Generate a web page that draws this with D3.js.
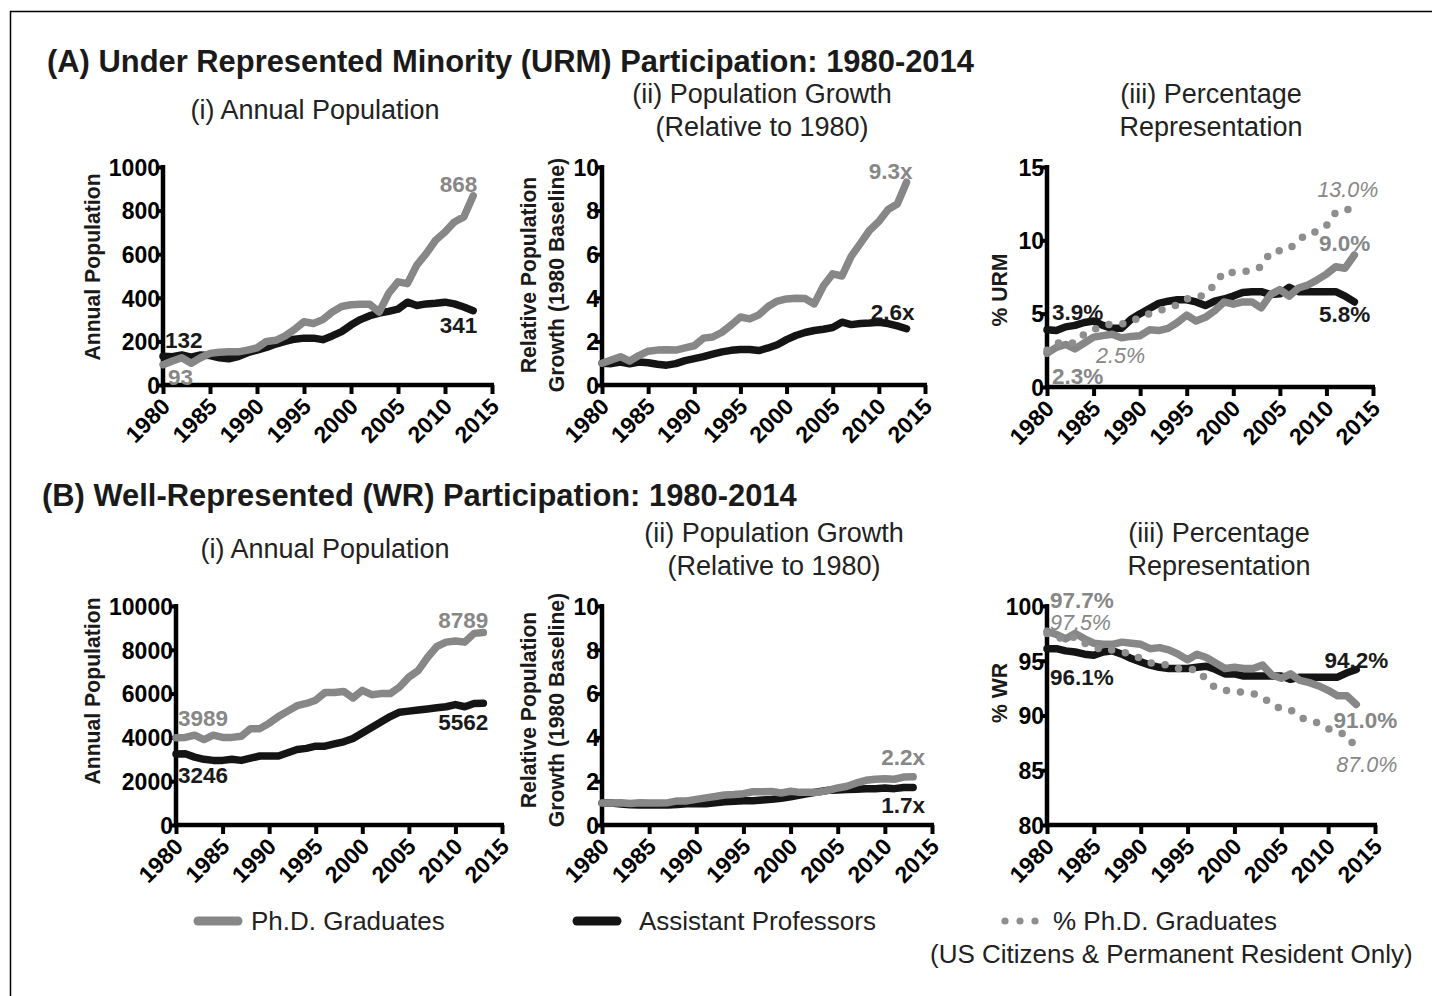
<!DOCTYPE html>
<html>
<head>
<meta charset="utf-8">
<script src="https://cdn.jsdelivr.net/npm/d3@7"></script>
<style>
  body { margin: 0; background: #fff; }
  svg { display: block; }
  text { font-family: "Liberation Sans", Arial, Helvetica, sans-serif; }
</style>
</head>
<body>
<div id="chart"></div>
<script>
// ---- data ----
const years = [1980, 1981, 1982, 1983, 1984, 1985, 1986, 1987, 1988, 1989,
  1990, 1991, 1992, 1993, 1994, 1995, 1996, 1997, 1998, 1999,
  2000, 2001, 2002, 2003, 2004, 2005, 2006, 2007, 2008, 2009,
  2010, 2011, 2012, 2013];
const xTicks = [1980, 1985, 1990, 1995, 2000, 2005, 2010, 2015];

// (A) under represented minority
const urmPhd = [93, 110, 125, 100, 125, 145, 150, 152, 152, 160, 170, 200, 205, 225, 255, 290, 282, 300, 335, 360,
  368, 370, 370, 335, 420, 473, 465, 550, 603, 664, 702, 748, 771, 868];
const urmProf = [132, 130, 138, 128, 138, 135, 125, 120, 130, 148, 160, 172, 188, 200, 210, 215, 215, 208, 225, 245,
  275, 300, 318, 330, 338, 348, 380, 365, 372, 375, 380, 372, 358, 341];
const urmPhdGrowth = [1.0, 1.15, 1.3, 1.1, 1.35, 1.55, 1.6, 1.62, 1.6, 1.7, 1.8, 2.15, 2.2, 2.42, 2.75, 3.12, 3.03, 3.22, 3.6, 3.85,
  3.95, 3.98, 3.97, 3.72, 4.55, 5.1, 5.0, 5.9, 6.5, 7.1, 7.5, 8.05, 8.3, 9.3];
const urmProfGrowth = [1.0, 0.98, 1.05, 0.97, 1.05, 1.02, 0.95, 0.91, 0.98, 1.12, 1.21, 1.3, 1.42, 1.52, 1.59, 1.63, 1.63, 1.58, 1.7, 1.85,
  2.08, 2.27, 2.41, 2.5, 2.56, 2.64, 2.88, 2.77, 2.82, 2.84, 2.88, 2.82, 2.71, 2.58];
const urmPhdPct = [2.3, 2.7, 2.9, 2.6, 3.0, 3.4, 3.5, 3.6, 3.35, 3.45, 3.5, 3.9, 3.85, 4.0, 4.4, 4.9, 4.5, 4.75, 5.2, 5.8,
  5.65, 5.8, 5.8, 5.4, 6.3, 6.65, 6.2, 6.75, 6.95, 7.3, 7.7, 8.2, 8.1, 9.0];
const urmProfPct = [3.9, 3.85, 4.1, 4.2, 4.4, 4.5, 4.2, 4.0, 4.0, 4.6, 5.0, 5.35, 5.7, 5.85, 5.95, 5.95, 5.8, 5.55, 5.85, 6.0,
  6.2, 6.45, 6.5, 6.5, 6.3, 6.35, 6.8, 6.5, 6.5, 6.5, 6.5, 6.5, 6.2, 5.8];
const urmCitizenPct = [2.5, 3.0, 3.0, 3.0, 3.6, 3.9, 4.2, 4.3, 4.3, 4.4, 4.8, 5.0, 5.2, 5.4, 5.6, 6.0, 6.1, 6.3, 7.0, 7.85,
  7.8, 7.85, 7.95, 8.2, 9.2, 9.3, 9.4, 10.0, 10.5, 10.6, 11.0, 11.9, 12.1, 12.1];

// (B) well represented
const wrPhd = [3989, 4000, 4100, 3900, 4100, 4000, 4000, 4050, 4400, 4400, 4650, 4950, 5200, 5450, 5550, 5700, 6050, 6050, 6100, 5800,
  6150, 5950, 6000, 6000, 6300, 6750, 7050, 7650, 8150, 8350, 8400, 8350, 8750, 8789];
const wrProf = [3246, 3250, 3100, 3000, 2950, 2950, 3000, 2950, 3050, 3150, 3150, 3150, 3300, 3450, 3500, 3600, 3600, 3700, 3800, 3950,
  4200, 4450, 4700, 4950, 5150, 5200, 5250, 5300, 5350, 5400, 5500, 5400, 5550, 5562];
const wrPhdGrowth = [1.0, 1.0, 1.02, 0.98, 1.02, 1.0, 1.0, 1.02, 1.1, 1.1, 1.17, 1.24, 1.3, 1.37, 1.39, 1.43, 1.52, 1.52, 1.53, 1.46,
  1.54, 1.49, 1.5, 1.5, 1.58, 1.69, 1.77, 1.92, 2.04, 2.09, 2.11, 2.09, 2.19, 2.2];
const wrProfGrowth = [1.0, 1.0, 0.96, 0.92, 0.91, 0.91, 0.92, 0.91, 0.94, 0.97, 0.97, 0.97, 1.02, 1.06, 1.08, 1.11, 1.11, 1.14, 1.17, 1.22,
  1.29, 1.37, 1.45, 1.52, 1.59, 1.6, 1.62, 1.63, 1.65, 1.66, 1.69, 1.66, 1.71, 1.71];
const wrPhdPct = [97.7, 97.4, 97.0, 97.5, 97.0, 96.6, 96.5, 96.5, 96.7, 96.6, 96.5, 96.1, 96.2, 96.0, 95.6, 95.1, 95.6, 95.3, 94.8, 94.3,
  94.4, 94.3, 94.3, 94.6, 93.7, 93.4, 93.8, 93.2, 93.0, 92.7, 92.3, 91.8, 91.8, 91.0];
const wrProfPct = [96.1, 96.1, 95.9, 95.8, 95.6, 95.5, 95.8, 95.9, 95.6, 95.2, 94.9, 94.6, 94.4, 94.3, 94.3, 94.3, 94.4, 94.5, 94.2, 93.8,
  93.8, 93.6, 93.6, 93.6, 93.6, 93.6, 93.3, 93.5, 93.5, 93.5, 93.5, 93.5, 93.9, 94.2];
const wrCitizenPct = [97.5, 97.2, 96.9, 97.2, 96.6, 96.3, 95.9, 96.0, 95.8, 95.6, 95.2, 94.8, 94.7, 94.6, 94.3, 94.2, 94.2, 93.3, 92.5, 92.3,
  92.2, 92.1, 92.0, 91.7, 91.0, 90.6, 90.5, 89.8, 89.6, 89.3, 88.8, 88.5, 88.2, 87.0];

// ---- styles ----
const GRAY = "#878787";
const BLACK = "#141414";
const DOT = "#8e8e8e";
const style = {
  phd: { color: GRAY, dash: null },
  prof: { color: BLACK, dash: null },
  cit: { color: DOT, dash: "0 14" }
};

const svg = d3.select("#chart").append("svg")
  .attr("width", 1432)
  .attr("height", 996);

// frame
svg.append("path")
  .attr("d", "M10.5,996 V11.5 H1432")
  .attr("fill", "none")
  .attr("stroke", "#000")
  .attr("stroke-width", 1.5);

// section titles
svg.append("text").attr("x", 47).attr("y", 72)
  .attr("font-size", 30.9).attr("font-weight", "bold").attr("fill", "#1a1a1a")
  .text("(A) Under Represented Minority (URM) Participation: 1980-2014");
svg.append("text").attr("x", 42).attr("y", 506)
  .attr("font-size", 30.9).attr("font-weight", "bold").attr("fill", "#1a1a1a")
  .text("(B) Well-Represented (WR) Participation: 1980-2014");

const subtitles = [
  { x: 315, y: [119], lines: ["(i) Annual Population"] },
  { x: 762, y: [103, 136], lines: ["(ii) Population Growth", "(Relative to 1980)"] },
  { x: 1211, y: [103, 136], lines: ["(iii) Percentage", "Representation"] },
  { x: 325, y: [558], lines: ["(i) Annual Population"] },
  { x: 774, y: [542, 575], lines: ["(ii) Population Growth", "(Relative to 1980)"] },
  { x: 1219, y: [542, 575], lines: ["(iii) Percentage", "Representation"] }
];
subtitles.forEach(s => {
  s.lines.forEach((l, i) => {
    svg.append("text")
      .attr("x", s.x).attr("y", s.y[i])
      .attr("text-anchor", "middle")
      .attr("font-size", 27)
      .attr("fill", "#222")
      .text(l);
  });
});

// ---- panels ----
const panels = [
  {
    x0: 163, x1: 492, yTop: 167, yBot: 385, yDomain: [0, 1000], yTicks: d3.range(0, 1001, 200),
    axisTitle: ["Annual Population"], titleX: [100], titleY: 267,
    series: [{ v: urmProf, k: "prof" }, { v: urmPhd, k: "phd" }],
    labels: [
      { t: "132", s: 0, end: false, dx: 2, dy: -8.5, a: "start" },
      { t: "93", s: 1, end: false, dx: 5, dy: 20, a: "start" },
      { t: "868", s: 1, end: true, dx: 4, dy: -3.5, a: "end" },
      { t: "341", s: 0, end: true, dx: 4, dy: 22, a: "end" }
    ]
  },
  {
    x0: 602, x1: 925, yTop: 167, yBot: 385, yDomain: [0, 10], yTicks: d3.range(0, 11, 2),
    axisTitle: ["Relative Population", "Growth (1980 Baseline)"], titleX: [536, 564], titleY: 275,
    series: [{ v: urmProfGrowth, k: "prof" }, { v: urmPhdGrowth, k: "phd" }],
    labels: [
      { t: "9.3x", s: 1, end: true, dx: 6, dy: -3, a: "end" },
      { t: "2.6x", s: 0, end: true, dx: 8, dy: -9, a: "end" }
    ]
  },
  {
    x0: 1047, x1: 1373, yTop: 167, yBot: 387, yDomain: [0, 15], yTicks: [0, 5, 10, 15],
    axisTitle: ["% URM"], titleX: [1007], titleY: 290,
    series: [{ v: urmProfPct, k: "prof" }, { v: urmPhdPct, k: "phd" }, { v: urmCitizenPct, k: "cit" }],
    labels: [
      { t: "3.9%", s: 0, end: false, dx: 5, dy: -10, a: "start" },
      { t: "2.3%", s: 1, end: false, dx: 5, dy: 31, a: "start" },
      { t: "2.5%", s: 2, end: false, dx: 49, dy: 13, a: "start", it: true },
      { t: "13.0%", s: 2, end: true, dx: 24, dy: -13, a: "end", it: true },
      { t: "9.0%", s: 1, end: true, dx: 16, dy: -4.5, a: "end" },
      { t: "5.8%", s: 0, end: true, dx: 16, dy: 19.6, a: "end" }
    ]
  },
  {
    x0: 176, x1: 502, yTop: 606, yBot: 825, yDomain: [0, 10000], yTicks: d3.range(0, 10001, 2000),
    axisTitle: ["Annual Population"], titleX: [100], titleY: 691,
    series: [{ v: wrProf, k: "prof" }, { v: wrPhd, k: "phd" }],
    labels: [
      { t: "3989", s: 1, end: false, dx: 2, dy: -12, a: "start" },
      { t: "3246", s: 0, end: false, dx: 2, dy: 28.6, a: "start" },
      { t: "8789", s: 1, end: true, dx: 5, dy: -5, a: "end" },
      { t: "5562", s: 0, end: true, dx: 5, dy: 27, a: "end" }
    ]
  },
  {
    x0: 602, x1: 932, yTop: 606, yBot: 825, yDomain: [0, 10], yTicks: d3.range(0, 11, 2),
    axisTitle: ["Relative Population", "Growth (1980 Baseline)"], titleX: [536, 564], titleY: 710,
    series: [{ v: wrProfGrowth, k: "prof" }, { v: wrPhdGrowth, k: "phd" }],
    labels: [
      { t: "2.2x", s: 1, end: true, dx: 12, dy: -12, a: "end" },
      { t: "1.7x", s: 0, end: true, dx: 12, dy: 25, a: "end" }
    ]
  },
  {
    x0: 1047, x1: 1375, yTop: 606, yBot: 825, yDomain: [80, 100], yTicks: [80, 85, 90, 95, 100],
    axisTitle: ["% WR"], titleX: [1007], titleY: 693,
    series: [{ v: wrProfPct, k: "prof" }, { v: wrPhdPct, k: "phd" }, { v: wrCitizenPct, k: "cit" }],
    labels: [
      { t: "97.7%", s: 1, end: false, dx: 3, dy: -23, a: "start" },
      { t: "97.5%", s: 2, end: false, dx: 3, dy: -3, a: "start", it: true },
      { t: "96.1%", s: 0, end: false, dx: 3, dy: 36, a: "start" },
      { t: "94.2%", s: 0, end: true, dx: 32, dy: -2, a: "end" },
      { t: "91.0%", s: 1, end: true, dx: 41, dy: 23, a: "end" },
      { t: "87.0%", s: 2, end: true, dx: 41, dy: 24, a: "end", it: true }
    ]
  }
];

panels.forEach(drawPanel);

function drawPanel(p) {
  const x = d3.scaleLinear().domain([1980, 2015]).range([p.x0, p.x1]);
  const y = d3.scaleLinear().domain(p.yDomain).range([p.yBot, p.yTop]);
  const g = svg.append("g");

  // axes
  const xAxis = g.append("g")
    .attr("transform", `translate(0,${p.yBot})`)
    .call(d3.axisBottom(x).tickValues(xTicks).tickFormat(d3.format("d")).tickSize(9).tickPadding(0));
  const yAxis = g.append("g")
    .attr("transform", `translate(${p.x0},0)`)
    .call(d3.axisLeft(y).tickValues(p.yTicks).tickFormat(d3.format("d")).tickSize(7).tickPadding(1));

  [xAxis, yAxis].forEach(a => {
    a.select(".domain").attr("stroke", "#000").attr("stroke-width", 4.5);
    a.selectAll(".tick line").attr("stroke", "#000").attr("stroke-width", 4);
    a.selectAll(".tick text")
      .attr("fill", "#000")
      .attr("font-size", 23)
      .attr("font-weight", "bold")
      .attr("font-family", "'Liberation Sans', Arial, sans-serif");
  });
  xAxis.select(".domain").attr("d", `M${p.x0 - 2},0H${p.x1 + 2}`);
  yAxis.select(".domain").attr("d", `M0,${p.yBot + 2}V${p.yTop - 2}`);
  xAxis.selectAll(".tick text")
    .attr("text-anchor", "end")
    .attr("dy", null)
    .attr("y", 0)
    .attr("transform", "translate(8,23) rotate(-45)");
  yAxis.selectAll(".tick text").attr("x", -3).attr("dy", "0.36em");

  // axis title
  p.axisTitle.forEach((t, i) => {
    g.append("text")
      .attr("transform", `translate(${p.titleX[i]},${p.titleY}) rotate(-90)`)
      .attr("text-anchor", "middle")
      .attr("font-size", 21.2)
      .attr("font-weight", "bold")
      .attr("fill", "#1a1a1a")
      .text(t);
  });

  // series
  const line = d3.line().x((d, i) => x(years[i])).y(d => y(d));
  p.series.forEach(s => {
    const st = style[s.k];
    g.append("path")
      .datum(s.v)
      .attr("d", line)
      .attr("fill", "none")
      .attr("stroke", st.color)
      .attr("stroke-width", 7.5)
      .attr("stroke-linejoin", "round")
      .attr("stroke-linecap", "round")
      .attr("stroke-dasharray", st.dash);
  });

  // end labels
  p.labels.forEach(l => {
    const s = p.series[l.s];
    const idx = l.end ? years.length - 1 : 0;
    g.append("text")
      .attr("x", x(years[idx]) + l.dx)
      .attr("y", y(s.v[idx]) + l.dy)
      .attr("text-anchor", l.a)
      .attr("font-size", l.it ? 21.5 : 22.5)
      .attr("font-weight", l.it ? "normal" : "bold")
      .attr("font-style", l.it ? "italic" : "normal")
      .attr("fill", s.k === "prof" ? "#1a1a1a" : GRAY)
      .text(l.t);
  });
}

// ---- legend ----
const legend = svg.append("g");
const legendItems = [
  { k: "phd", x: 198, text: "Ph.D. Graduates", tx: 251 },
  { k: "prof", x: 577, text: "Assistant Professors", tx: 639 },
  { k: "cit", x: 1005, text: "% Ph.D. Graduates", tx: 1053 }
];
legendItems.forEach(it => {
  const st = style[it.k];
  if (it.k === "cit") {
    legend.selectAll(null)
      .data([0, 1, 2])
      .enter().append("circle")
      .attr("cx", i => it.x + i * 15)
      .attr("cy", 921)
      .attr("r", 3.6)
      .attr("fill", st.color);
  } else {
    legend.append("line")
      .attr("x1", it.x).attr("x2", it.x + 40)
      .attr("y1", 921).attr("y2", 921)
      .attr("stroke", st.color)
      .attr("stroke-width", 9)
      .attr("stroke-linecap", "round");
  }
  legend.append("text")
    .attr("x", it.tx).attr("y", 930)
    .attr("font-size", 26)
    .attr("fill", "#222")
    .text(it.text);
});
legend.append("text")
  .attr("x", 930).attr("y", 963)
  .attr("font-size", 26)
  .attr("fill", "#222")
  .text("(US Citizens & Permanent Resident Only)");
</script>
</body>
</html>
